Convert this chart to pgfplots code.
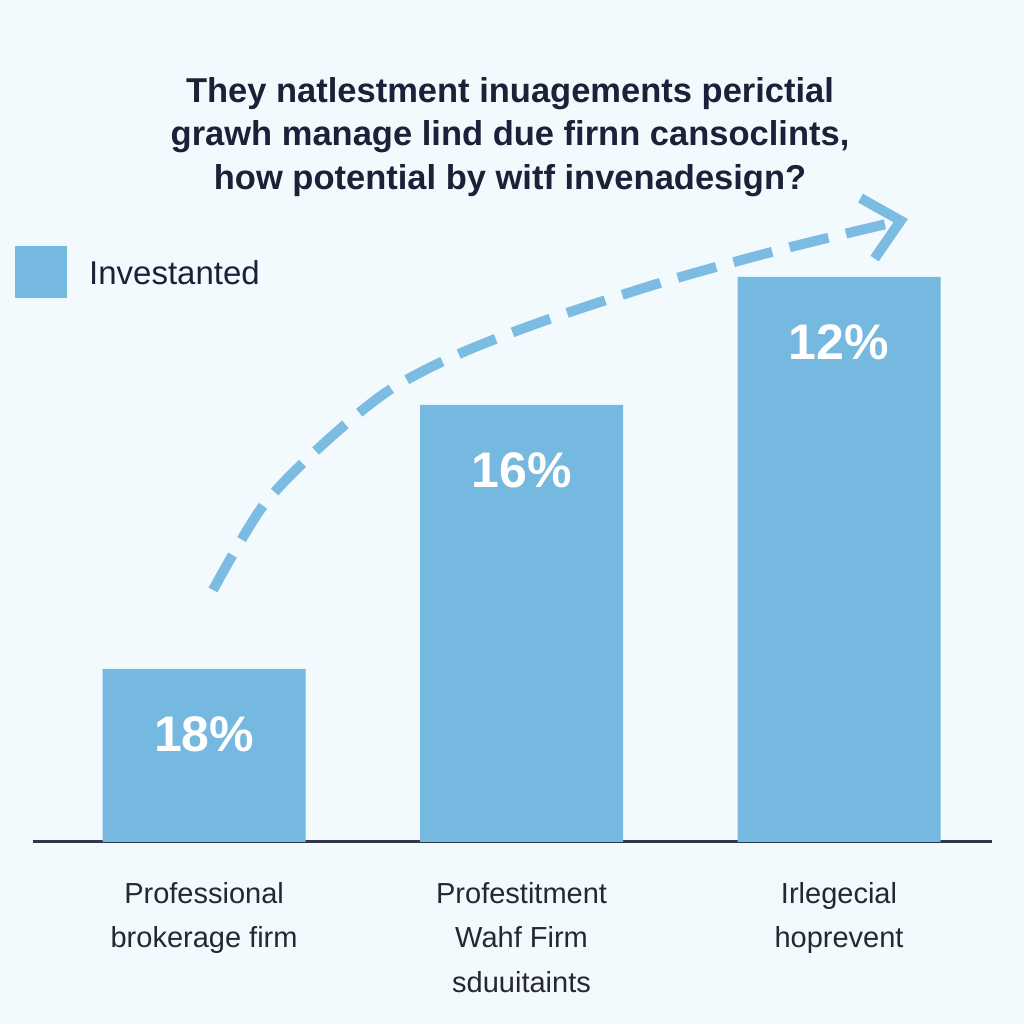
\documentclass[border=0pt]{standalone}
\usepackage{pgfplots}
\pgfplotsset{compat=1.18}
\usetikzlibrary{arrows.meta}
\usepackage{fontspec}
\setmainfont{Liberation Sans}
\definecolor{bgcol}{HTML}{F3FAFD}
\definecolor{barcol}{HTML}{75B8E0}
\definecolor{arrcol}{HTML}{7CBCE2}
\definecolor{navy}{HTML}{1C2038}
\definecolor{labcol}{HTML}{252830}
\definecolor{axcol}{HTML}{2E3A4B}
\begin{document}
\begin{tikzpicture}[x=1pt,y=1pt]
\path[use as bounding box, fill=bgcol] (0,0) rectangle (1024,1024);
\begin{axis}[
  at={(33pt,182pt)}, anchor=south west,
  scale only axis, width=959pt, height=600pt,
  xmin=-0.539, xmax=2.482, ymin=0, ymax=60,
  clip=false,
  axis y line=none, axis x line=bottom,
  x axis line style={-, line width=3pt, color=axcol},
  xtick=data, major tick length=0pt,
  xticklabels={{Professional\\brokerage firm},{Profestitment\\Wahf Firm\\sduuitaints},{Irlegecial\\hoprevent}},
  xticklabel style={align=center, inner sep=0pt, anchor=north, yshift=-40pt,
     font=\fontsize{29}{44.5}\selectfont, text=labcol},
  ytick=\empty,
  title={They natlestment inuagements perictial\\grawh manage lind due firnn cansoclints,\\how potential by witf invenadesign?},
  title style={at={(0.4974,1)}, anchor=north, yshift=159pt, inner sep=0pt, align=center,
     font=\fontsize{34.5}{43.5}\selectfont\bfseries, text=navy},
  legend style={draw=none, fill=none, at={(0,1)}, anchor=north west,
     xshift=-18pt, yshift=-4pt, inner sep=0pt,
     font=\fontsize{33}{40}\selectfont, text=navy,
     /tikz/every odd column/.append style={column sep=20pt}},
  legend cell align=left,
]
\addplot[ybar, bar width=203pt, fill=barcol, draw=none,
  point meta=explicit symbolic, nodes near coords,
  every node near coord/.append style={anchor=north, yshift=-47pt, inner sep=0pt,
     font=\fontsize{50}{60}\selectfont\bfseries, text=white},
  legend image code/.code={\fill[barcol] (0pt,-25pt) rectangle (52pt,27pt);}]
  coordinates {(0,17.3) [18\%] (1,43.7) [16\%] (2,56.5) [12\%]};
\addlegendentry{Investanted}
\addplot[smooth, forget plot, draw=arrcol, line width=10pt, dash pattern=on 40pt off 18pt,
  -{Straight Barb[length=34pt, width=62pt]}]
  coordinates {(0.028,25.2) (0.183,33.5) (0.365,39.5) (0.570,44.9) (0.781,48.5) (1.052,51.9) (1.436,55.9) (1.836,59.4) (2.217,62.3)};
\end{axis}
\end{tikzpicture}
\end{document}
